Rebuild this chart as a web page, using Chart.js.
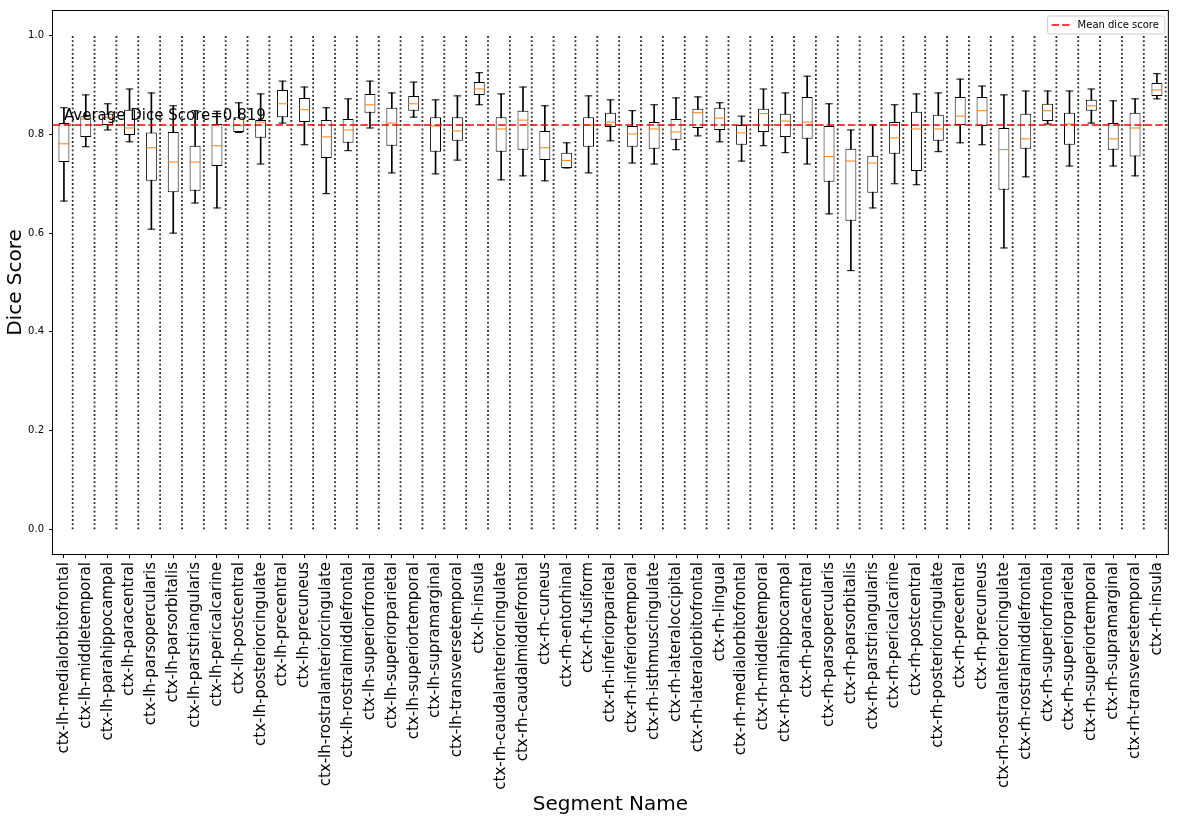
<!DOCTYPE html>
<html>
<head>
<meta charset="utf-8">
<script src="https://cdn.jsdelivr.net/npm/chart.js@4.4.1/dist/chart.umd.min.js"></script>
<style>
    body { margin: 0; background: #fff; }
    #wrap { width: 1179px; height: 821px; }
</style>
</head>
<body>
<div id="wrap"><canvas id="myChart"></canvas></div>
<script>
const categories = [
    'ctx-lh-medialorbitofrontal', 'ctx-lh-middletemporal', 'ctx-lh-parahippocampal', 'ctx-lh-paracentral',
    'ctx-lh-parsopercularis', 'ctx-lh-parsorbitalis', 'ctx-lh-parstriangularis', 'ctx-lh-pericalcarine',
    'ctx-lh-postcentral', 'ctx-lh-posteriorcingulate', 'ctx-lh-precentral', 'ctx-lh-precuneus',
    'ctx-lh-rostralanteriorcingulate', 'ctx-lh-rostralmiddlefrontal', 'ctx-lh-superiorfrontal', 'ctx-lh-superiorparietal',
    'ctx-lh-superiortemporal', 'ctx-lh-supramarginal', 'ctx-lh-transversetemporal', 'ctx-lh-insula',
    'ctx-rh-caudalanteriorcingulate', 'ctx-rh-caudalmiddlefrontal', 'ctx-rh-cuneus', 'ctx-rh-entorhinal',
    'ctx-rh-fusiform', 'ctx-rh-inferiorparietal', 'ctx-rh-inferiortemporal', 'ctx-rh-isthmuscingulate',
    'ctx-rh-lateraloccipital', 'ctx-rh-lateralorbitofrontal', 'ctx-rh-lingual', 'ctx-rh-medialorbitofrontal',
    'ctx-rh-middletemporal', 'ctx-rh-parahippocampal', 'ctx-rh-paracentral', 'ctx-rh-parsopercularis',
    'ctx-rh-parsorbitalis', 'ctx-rh-parstriangularis', 'ctx-rh-pericalcarine', 'ctx-rh-postcentral',
    'ctx-rh-posteriorcingulate', 'ctx-rh-precentral', 'ctx-rh-precuneus', 'ctx-rh-rostralanteriorcingulate',
    'ctx-rh-rostralmiddlefrontal', 'ctx-rh-superiorfrontal', 'ctx-rh-superiorparietal', 'ctx-rh-superiortemporal',
    'ctx-rh-supramarginal', 'ctx-rh-transversetemporal', 'ctx-rh-insula'
];

// box plot stats
const whiskerLow = [
    0.665, 0.775, 0.809, 0.785, 0.608, 0.600, 0.661, 0.651, 0.804, 0.740,
    0.823, 0.779, 0.680, 0.767, 0.813, 0.722, 0.835, 0.720, 0.748, 0.860,
    0.708, 0.716, 0.706, 0.732, 0.722, 0.787, 0.742, 0.740, 0.769, 0.797,
    0.785, 0.746, 0.777, 0.763, 0.740, 0.639, 0.524, 0.651, 0.700, 0.698,
    0.765, 0.783, 0.779, 0.570, 0.714, 0.821, 0.736, 0.823, 0.736, 0.716, 0.872
];
const quartile1 = [
    0.744, 0.795, 0.819, 0.799, 0.706, 0.683, 0.686, 0.736, 0.805, 0.793,
    0.835, 0.825, 0.752, 0.783, 0.844, 0.777, 0.848, 0.765, 0.787, 0.880,
    0.765, 0.769, 0.748, 0.732, 0.775, 0.815, 0.775, 0.771, 0.789, 0.813,
    0.809, 0.779, 0.805, 0.795, 0.791, 0.704, 0.625, 0.682, 0.761, 0.726,
    0.787, 0.819, 0.817, 0.688, 0.771, 0.827, 0.779, 0.848, 0.769, 0.755, 0.878
];
const medians = [
    0.781, 0.831, 0.835, 0.813, 0.773, 0.744, 0.744, 0.777, 0.818, 0.825,
    0.862, 0.850, 0.795, 0.809, 0.860, 0.823, 0.862, 0.817, 0.807, 0.892,
    0.811, 0.829, 0.773, 0.747, 0.819, 0.825, 0.801, 0.811, 0.805, 0.844,
    0.833, 0.803, 0.842, 0.827, 0.825, 0.755, 0.746, 0.742, 0.793, 0.811,
    0.811, 0.837, 0.848, 0.769, 0.791, 0.848, 0.821, 0.858, 0.791, 0.813, 0.890
];
const quartile3 = [
    0.823, 0.837, 0.842, 0.850, 0.804, 0.805, 0.777, 0.821, 0.835, 0.829,
    0.890, 0.874, 0.829, 0.831, 0.882, 0.854, 0.878, 0.835, 0.835, 0.906,
    0.835, 0.848, 0.807, 0.763, 0.835, 0.844, 0.817, 0.825, 0.831, 0.852,
    0.854, 0.819, 0.852, 0.842, 0.876, 0.817, 0.771, 0.757, 0.825, 0.846,
    0.840, 0.876, 0.876, 0.813, 0.842, 0.862, 0.844, 0.870, 0.823, 0.844, 0.904
];
const whiskerHigh = [
    0.854, 0.880, 0.862, 0.892, 0.884, 0.858, 0.848, 0.847, 0.864, 0.882,
    0.908, 0.896, 0.854, 0.872, 0.908, 0.884, 0.906, 0.870, 0.878, 0.925,
    0.882, 0.896, 0.858, 0.783, 0.878, 0.870, 0.848, 0.860, 0.874, 0.876,
    0.864, 0.837, 0.892, 0.884, 0.918, 0.862, 0.809, 0.819, 0.860, 0.882,
    0.884, 0.912, 0.898, 0.880, 0.888, 0.888, 0.888, 0.892, 0.868, 0.872, 0.923
];
const meanDice = 0.819;
const yTicks = [0.0, 0.2, 0.4, 0.6, 0.8, 1.0];
const sepRange = [0.0, 1.0];

const sepOffset = 0.4;
const separators = categories.flatMap((c, i) => [
    { x: i + sepOffset, y: sepRange[0] },
    { x: i + sepOffset, y: sepRange[1] },
    { x: i + sepOffset, y: null }
]);

Chart.defaults.font.family = '"DejaVu Sans", sans-serif';
Chart.defaults.color = '#000';

const legendBox = {
    id: 'legendBox',
    beforeDraw(chart) {
        const lg = chart.legend;
        const area = chart.chartArea;
        const pad = lg.options.labels.padding;
        const hb = lg.legendHitBoxes[0];
        if (!hb) return;
        lg.left = area.right - hb.width - 9 - pad;
        lg.top = area.top;
        const x0 = lg.left + pad;
        const y0 = lg.top + pad;
        const c = chart.ctx;
        c.save();
        c.beginPath();
        c.roundRect(x0 - 4, y0 - 4, hb.width + 10, 18, 2);
        c.fillStyle = 'rgba(255,255,255,0.8)';
        c.fill();
        c.strokeStyle = '#cccccc';
        c.lineWidth = 1;
        c.stroke();
        c.restore();
    }
};

const extras = {
    id: 'extras',
    afterDatasetsDraw(chart) {
        const c = chart.ctx;
        const x = chart.scales.x;
        const y = chart.scales.y;
        c.save();
        c.font = '15px "DejaVu Sans"';
        c.fillStyle = '#000';
        c.textBaseline = 'alphabetic';
        c.fillText('Average Dice Score=' + meanDice, x.getPixelForValue(0), y.getPixelForValue(meanDice + 0.01));
        c.restore();
    },
    afterDraw(chart) {
        const a = chart.chartArea;
        const c = chart.ctx;
        c.save();
        c.strokeStyle = '#000';
        c.lineWidth = 1;
        c.strokeRect(a.left - 0.5, a.top - 0.5, a.right - a.left + 1, a.bottom - a.top + 1);
        c.restore();
    }
};

let ctx = document.getElementById('myChart').getContext('2d');

const myChart = new Chart(ctx, {
    type: 'bar',
    data: {
        labels: categories,
        datasets: [
            {
                type: 'line',
                label: 'separators',
                xAxisID: 'x2',
                data: separators,
                borderColor: '#2a2a2a',
                borderWidth: 1.8,
                borderDash: [1.8, 2.4],
                pointRadius: 0,
                spanGaps: false,
                order: 5
            },
            {
                label: 'whiskers',
                xAxisID: 'x',
                data: whiskerLow.map((v, i) => [v, whiskerHigh[i]]),
                backgroundColor: '#000',
                barThickness: 1,
                grouped: false,
                order: 4
            },
            {
                label: 'boxes',
                xAxisID: 'x',
                data: quartile1.map((v, i) => [v, quartile3[i]]),
                backgroundColor: '#fff',
                borderColor: '#000',
                borderWidth: 1,
                borderSkipped: false,
                barPercentage: 0.5,
                categoryPercentage: 1.0,
                grouped: false,
                order: 3
            },
            {
                type: 'line',
                label: 'caps low',
                xAxisID: 'x',
                data: whiskerLow,
                showLine: false,
                pointStyle: 'line',
                pointRadius: 3.8,
                pointBorderColor: '#000',
                pointBorderWidth: 1,
                order: 2
            },
            {
                type: 'line',
                label: 'caps high',
                xAxisID: 'x',
                data: whiskerHigh,
                showLine: false,
                pointStyle: 'line',
                pointRadius: 3.8,
                pointBorderColor: '#000',
                pointBorderWidth: 1,
                order: 2
            },
            {
                type: 'line',
                label: 'medians',
                xAxisID: 'x',
                data: medians,
                showLine: false,
                pointStyle: 'line',
                pointRadius: 5.4,
                pointBorderColor: '#ff7f0e',
                pointBorderWidth: 1,
                order: 1
            },
            {
                type: 'line',
                label: 'Mean dice score',
                xAxisID: 'x2',
                data: [{ x: -0.5, y: meanDice }, { x: categories.length - 0.5, y: meanDice }],
                borderColor: 'rgba(255, 0, 0, 0.75)',
                borderWidth: 2,
                borderDash: [7.4, 3.2],
                pointRadius: 0,
                order: 0
            }
        ]
    },
    options: {
        responsive: true,
        maintainAspectRatio: false,
        animation: false,
        events: [],
        layout: { padding: { top: 10, right: 8, left: 0, bottom: 0 } },
        plugins: {
            tooltip: { enabled: false },
            legend: {
                position: 'chartArea',
                align: 'start',
                labels: {
                    filter: (item) => item.text === 'Mean dice score',
                    generateLabels: (chart) => Chart.defaults.plugins.legend.labels.generateLabels(chart).map((item) => {
                        const ds = chart.data.datasets[item.datasetIndex];
                        return { ...item, lineDash: ds.borderDash, lineWidth: ds.borderWidth, strokeStyle: ds.borderColor };
                    }),
                    usePointStyle: true,
                    pointStyle: 'line',
                    pointStyleWidth: 21,
                    boxHeight: 10,
                    padding: 9,
                    color: '#000',
                    font: { size: 10 }
                }
            }
        },
        scales: {
            x: {
                type: 'category',
                offset: true,
                border: { display: false },
                grid: { display: true, drawOnChartArea: false, drawTicks: true, tickLength: 4, color: '#000', offset: false },
                ticks: { autoSkip: false, minRotation: 90, maxRotation: 90, padding: 4, font: { size: 15 }, color: '#000' },
                title: { display: true, text: 'Segment Name', font: { size: 20 }, color: '#000' },
                afterFit: (scale) => { scale.height = 267; }
            },
            x2: {
                type: 'linear',
                position: 'bottom',
                display: false,
                offset: false,
                grid: { offset: false },
                bounds: 'data',
                min: -0.5,
                max: categories.length - 0.5
            },
            y: {
                type: 'linear',
                min: -0.05,
                max: 1.05,
                bounds: 'data',
                border: { display: false },
                grid: { display: true, drawOnChartArea: false, drawTicks: true, tickLength: 4, color: '#000' },
                afterBuildTicks: (scale) => { scale.ticks = yTicks.map(v => ({ value: v })); },
                ticks: { callback: (v) => Number(v).toFixed(1), padding: 5, font: { size: 10 }, color: '#000' },
                title: { display: true, text: 'Dice Score', font: { size: 20 }, color: '#000' },
                afterFit: (scale) => { scale.width = 53; }
            }
        }
    },
    plugins: [legendBox, extras]
});
</script>
</body>
</html>
